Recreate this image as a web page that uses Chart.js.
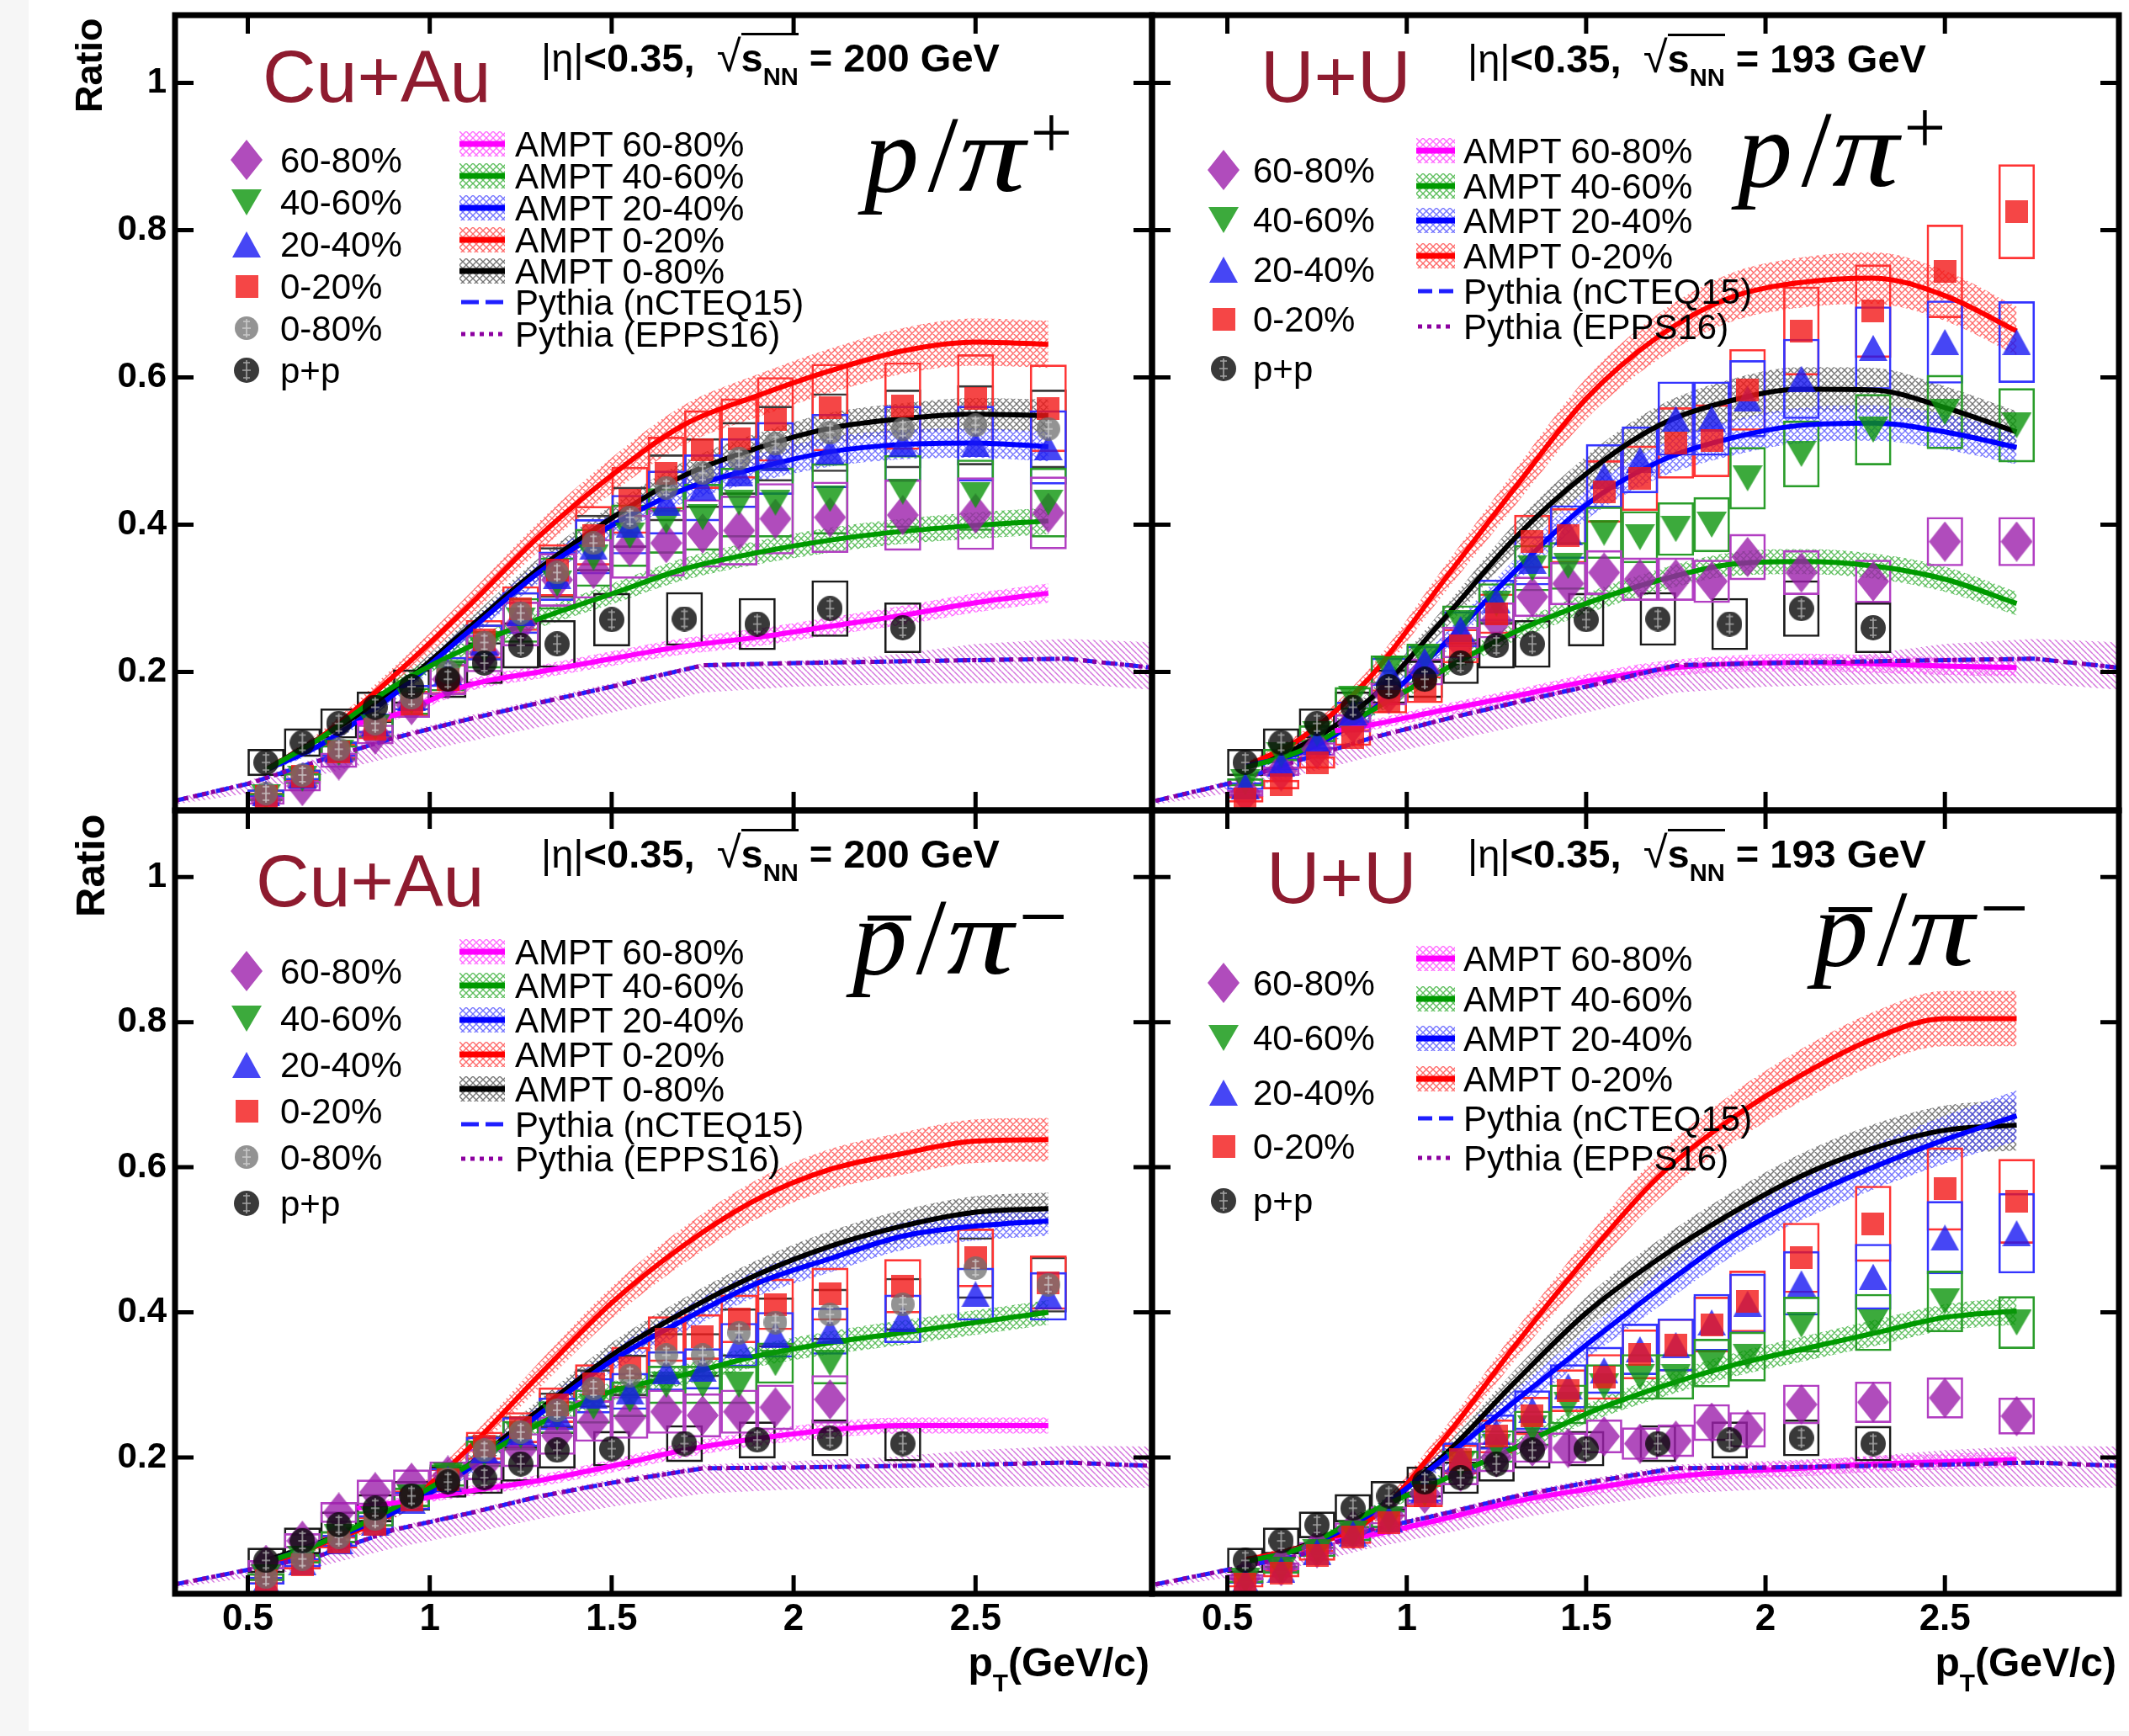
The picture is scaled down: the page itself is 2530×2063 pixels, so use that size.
<!DOCTYPE html>
<html><head><meta charset="utf-8">
<script src="https://cdn.jsdelivr.net/npm/chart.js@4.4.1/dist/chart.umd.min.js"></script>
<style>
html,body{margin:0;padding:0;background:#f6f6f6;overflow:hidden;}
#page{position:relative;width:2530px;height:2063px;overflow:hidden;background:#f6f6f6;}
#sheet{position:absolute;left:34px;top:0;width:2496px;height:2057px;background:#fff;}
#page canvas{position:absolute;}
.t{position:absolute;white-space:nowrap;line-height:1;color:#000;font-family:'Liberation Sans',Arial,Helvetica,sans-serif;}
.serif{font-family:'Liberation Serif','DejaVu Serif','Times New Roman',serif;}
.sup{position:relative;}
.sub{position:relative;font-size:0.62em;}
.pi{display:inline-block;transform:scaleX(1.22);transform-origin:0 0;margin-right:0.16em;}
</style></head>
<body><div id="page"><div id="sheet"></div></div>
<script>
// ---------------- axes / ticks ----------------
const X_TICKS = [0.5, 1, 1.5, 2, 2.5];
const X_TICK_LABELS = ['0.5', '1', '1.5', '2', '2.5'];
const Y_TICKS = [0.2, 0.4, 0.6, 0.8, 1];
const Y_TICK_LABELS = ['0.2', '0.4', '0.6', '0.8', '1'];

// ---------------- pT bins ----------------
const PT_AA = [0.55,0.65,0.75,0.85,0.95,1.05,1.15,1.25,1.35,1.45,1.55,1.65,1.75,1.85,1.95,2.1,2.3,2.5,2.7];
const PT_PP = [0.55,0.65,0.75,0.85,0.95,1.05,1.15,1.25,1.35,1.5,1.7,1.9,2.1,2.3];
const AMPT_PT = [0.55,0.7,0.9,1.1,1.3,1.5,1.7,1.9,2.1,2.3,2.5,2.7];
const AMPT_PT_6080 = [0.8,0.9,1.1,1.3,1.5,1.7,1.9,2.1,2.3,2.5,2.7];
const PYTHIA_PT = [0.3,0.5,0.7,0.9,1.1,1.3,1.5,1.75,2.0,2.25,2.5,2.75,3.0];

// ---------------- Cu+Au  p/pi+ ----------------
const CUAU_P_6080     = [0.025,0.045,0.08,0.115,0.155,0.19,0.225,0.265,0.325,0.34,0.37,0.375,0.388,0.392,0.408,0.41,0.413,0.415,0.416];
const CUAU_P_6080_SYS = [0.005,0.007,0.01,0.013,0.017,0.021,0.025,0.03,0.036,0.04,0.043,0.045,0.046,0.047,0.048,0.048,0.048,0.049,0.049];
const CUAU_P_4060     = [0.03,0.055,0.09,0.125,0.16,0.195,0.23,0.27,0.32,0.355,0.385,0.405,0.41,0.43,0.43,0.435,0.445,0.44,0.43];
const CUAU_P_4060_SYS = [0.005,0.007,0.01,0.014,0.018,0.021,0.025,0.03,0.035,0.039,0.042,0.044,0.045,0.047,0.047,0.048,0.049,0.048,0.047];
const CUAU_P_2040     = [0.035,0.06,0.095,0.13,0.165,0.2,0.24,0.28,0.33,0.37,0.4,0.43,0.45,0.47,0.49,0.5,0.51,0.51,0.505];
const CUAU_P_2040_SYS = [0.005,0.007,0.01,0.013,0.017,0.02,0.024,0.028,0.033,0.037,0.04,0.043,0.045,0.047,0.049,0.05,0.051,0.051,0.05];
const CUAU_P_0020     = [0.031,0.058,0.092,0.122,0.157,0.19,0.244,0.286,0.338,0.385,0.433,0.47,0.502,0.517,0.543,0.559,0.561,0.571,0.558];
const CUAU_P_0020_SYS = [0.005,0.007,0.01,0.013,0.017,0.02,0.026,0.03,0.035,0.04,0.045,0.049,0.053,0.054,0.057,0.059,0.059,0.06,0.059];
const CUAU_P_0080     = [0.035,0.06,0.095,0.13,0.165,0.2,0.24,0.28,0.335,0.375,0.41,0.45,0.47,0.49,0.51,0.525,0.53,0.535,0.53];
const CUAU_P_0080_SYS = [0.005,0.007,0.01,0.013,0.017,0.02,0.024,0.028,0.034,0.038,0.041,0.045,0.047,0.049,0.051,0.053,0.053,0.054,0.053];
const PP_P            = [0.077,0.104,0.13,0.152,0.18,0.19,0.212,0.236,0.238,0.271,0.272,0.265,0.286,0.26];
const PP_P_SYS        = [0.018,0.019,0.02,0.021,0.023,0.025,0.028,0.031,0.032,0.036,0.036,0.035,0.038,0.034];

// ---------------- U+U  p/pi+ ----------------
const UU_P_6080     = [0.035,0.065,0.095,0.13,0.17,0.2,0.24,0.27,0.302,0.32,0.335,0.326,0.326,0.323,0.356,0.335,0.323,0.377,0.377];
const UU_P_6080_SYS = [0.004,0.006,0.009,0.012,0.015,0.018,0.021,0.024,0.027,0.029,0.03,0.029,0.029,0.029,0.031,0.03,0.029,0.033,0.033];
const UU_P_4060     = [0.05,0.087,0.116,0.164,0.203,0.218,0.266,0.293,0.341,0.344,0.389,0.383,0.394,0.4,0.463,0.496,0.529,0.553,0.535];
const UU_P_4060_SYS = [0.005,0.008,0.011,0.015,0.019,0.02,0.024,0.027,0.031,0.032,0.035,0.035,0.036,0.037,0.042,0.045,0.048,0.05,0.05];
const UU_P_2040     = [0.045,0.075,0.105,0.145,0.2,0.215,0.258,0.297,0.351,0.39,0.466,0.488,0.544,0.544,0.571,0.598,0.64,0.648,0.648];
const UU_P_2040_SYS = [0.005,0.008,0.01,0.014,0.019,0.02,0.024,0.028,0.033,0.036,0.043,0.045,0.05,0.05,0.052,0.054,0.056,0.056,0.055];
const UU_P_0020     = [0.027,0.047,0.077,0.111,0.16,0.176,0.235,0.279,0.377,0.385,0.445,0.463,0.511,0.514,0.583,0.663,0.69,0.744,0.825];
const UU_P_0020_SYS = [0.004,0.006,0.008,0.011,0.016,0.018,0.023,0.027,0.036,0.037,0.042,0.044,0.048,0.049,0.055,0.06,0.063,0.063,0.064];

// ---------------- Cu+Au  pbar/pi- ----------------
const CUAU_PBAR_6080     = [0.052,0.085,0.124,0.152,0.165,0.175,0.19,0.21,0.23,0.25,0.255,0.263,0.258,0.263,0.269,0.28,null,null,null];
const CUAU_PBAR_6080_SYS = [0.006,0.01,0.014,0.017,0.018,0.019,0.021,0.023,0.026,0.028,0.029,0.03,0.03,0.03,0.031,0.033,null,null,null];
const CUAU_PBAR_4060     = [0.035,0.06,0.09,0.115,0.145,0.175,0.205,0.23,0.255,0.27,0.28,0.3,0.3,0.3,0.33,0.33,null,null,null];
const CUAU_PBAR_4060_SYS = [0.005,0.006,0.008,0.01,0.013,0.015,0.018,0.02,0.022,0.023,0.024,0.026,0.026,0.026,0.028,0.029,null,null,null];
const CUAU_PBAR_2040     = [0.03,0.055,0.085,0.11,0.14,0.17,0.21,0.235,0.26,0.285,0.291,0.319,0.322,0.355,0.369,0.374,0.391,0.425,0.422];
const CUAU_PBAR_2040_SYS = [0.005,0.006,0.008,0.01,0.012,0.015,0.018,0.02,0.022,0.024,0.025,0.027,0.028,0.03,0.031,0.032,0.033,0.036,0.033];
const CUAU_PBAR_0020     = [0.03,0.052,0.083,0.108,0.141,0.169,0.216,0.241,0.272,0.302,0.324,0.363,0.366,0.391,0.411,0.425,0.436,0.475,0.441];
const CUAU_PBAR_0020_SYS = [0.005,0.006,0.008,0.01,0.013,0.015,0.019,0.021,0.024,0.026,0.028,0.031,0.031,0.033,0.035,0.036,0.037,0.04,0.037];
const CUAU_PBAR_0080     = [0.035,0.06,0.09,0.115,0.145,0.17,0.21,0.235,0.265,0.295,0.313,0.341,0.341,0.372,0.386,0.397,0.411,0.461,0.438];
const CUAU_PBAR_0080_SYS = [0.005,0.006,0.008,0.01,0.013,0.015,0.019,0.021,0.024,0.026,0.028,0.03,0.03,0.033,0.034,0.035,0.036,0.042,0.038];
const PP_PBAR            = [0.058,0.085,0.107,0.13,0.147,0.166,0.172,0.191,0.21,0.212,0.219,0.224,0.227,0.219];
const PP_PBAR_SYS        = [0.017,0.018,0.018,0.019,0.02,0.021,0.022,0.024,0.025,0.024,0.025,0.025,0.025,0.024];

// ---------------- U+U  pbar/pi- ----------------
const UU_PBAR_6080     = [0.035,0.05,0.075,0.1,0.12,0.15,0.18,0.2,0.215,0.213,0.229,0.219,0.223,0.248,0.238,0.273,0.276,0.282,0.257];
const UU_PBAR_6080_SYS = [0.004,0.005,0.008,0.01,0.012,0.015,0.018,0.02,0.022,0.021,0.023,0.022,0.022,0.025,0.024,0.027,0.028,0.028,0.025];
const UU_PBAR_4060     = [0.03,0.045,0.07,0.095,0.115,0.15,0.19,0.215,0.24,0.273,0.298,0.311,0.311,0.33,0.339,0.383,0.386,0.415,0.386];
const UU_PBAR_4060_SYS = [0.003,0.005,0.007,0.01,0.012,0.015,0.019,0.022,0.024,0.027,0.03,0.031,0.031,0.033,0.034,0.038,0.039,0.042,0.036];
const UU_PBAR_2040     = [0.03,0.045,0.07,0.095,0.115,0.155,0.2,0.235,0.265,0.298,0.32,0.349,0.355,0.386,0.412,0.44,0.449,0.503,0.509];
const UU_PBAR_2040_SYS = [0.004,0.005,0.007,0.01,0.012,0.016,0.02,0.024,0.027,0.03,0.032,0.035,0.036,0.039,0.041,0.044,0.045,0.05,0.055];
const UU_PBAR_0020     = [0.025,0.04,0.065,0.09,0.11,0.147,0.197,0.229,0.257,0.292,0.311,0.342,0.355,0.383,0.415,0.475,0.522,0.57,0.553];
const UU_PBAR_0020_SYS = [0.004,0.005,0.007,0.009,0.011,0.015,0.02,0.023,0.026,0.029,0.031,0.034,0.036,0.038,0.042,0.048,0.052,0.057,0.058];

// ---------------- AMPT (centre and band half-width) ----------------
const AMPT_CUAU_P_6080 = [0.13,0.141,0.181,0.2,0.218,0.235,0.247,0.262,0.277,0.294,0.307];
const AMPT_CUAU_P_6080_ERR = [0.006,0.007,0.008,0.009,0.01,0.011,0.012,0.012,0.013,0.013,0.013];
const AMPT_CUAU_P_4060 = [0.067,0.11,0.18,0.232,0.272,0.306,0.34,0.362,0.379,0.391,0.399,0.405];
const AMPT_CUAU_P_4060_ERR = [0.004,0.005,0.008,0.01,0.012,0.014,0.015,0.016,0.017,0.017,0.018,0.018];
const AMPT_CUAU_P_2040 = [0.067,0.101,0.169,0.252,0.335,0.399,0.448,0.477,0.499,0.509,0.511,0.506];
const AMPT_CUAU_P_2040_ERR = [0.004,0.006,0.009,0.011,0.014,0.016,0.018,0.019,0.02,0.02,0.02,0.02];
const AMPT_CUAU_P_0020 = [0.067,0.111,0.194,0.286,0.384,0.467,0.536,0.575,0.609,0.636,0.648,0.645];
const AMPT_CUAU_P_0020_ERR = [0.005,0.008,0.012,0.016,0.02,0.024,0.027,0.029,0.03,0.031,0.032,0.032];
const AMPT_CUAU_P_0080 = [0.067,0.111,0.174,0.257,0.34,0.409,0.467,0.504,0.531,0.544,0.55,0.548];
const AMPT_CUAU_P_0080_ERR = [0.004,0.006,0.009,0.012,0.015,0.017,0.019,0.02,0.021,0.021,0.022,0.022];

const AMPT_UU_P_6080 = [0.12,0.128,0.148,0.167,0.187,0.203,0.211,0.213,0.211,0.208,0.206];
const AMPT_UU_P_6080_ERR = [0.006,0.007,0.008,0.009,0.01,0.011,0.011,0.012,0.012,0.012,0.012];
const AMPT_UU_P_4060 = [0.07,0.092,0.147,0.202,0.254,0.293,0.324,0.346,0.35,0.344,0.326,0.293];
const AMPT_UU_P_4060_ERR = [0.004,0.005,0.008,0.01,0.012,0.014,0.015,0.016,0.017,0.017,0.017,0.016];
const AMPT_UU_P_2040 = [0.072,0.09,0.147,0.236,0.336,0.427,0.485,0.517,0.535,0.538,0.526,0.505];
const AMPT_UU_P_2040_ERR = [0.004,0.006,0.01,0.013,0.017,0.02,0.022,0.024,0.024,0.024,0.024,0.023];
const AMPT_UU_P_0020 = [0.072,0.108,0.194,0.322,0.449,0.571,0.655,0.708,0.729,0.735,0.711,0.663];
const AMPT_UU_P_0020_ERR = [0.005,0.008,0.013,0.018,0.024,0.028,0.031,0.033,0.034,0.035,0.034,0.033];
const AMPT_UU_P_0080 = [0.072,0.098,0.164,0.27,0.381,0.469,0.534,0.568,0.584,0.583,0.559,0.526];
const AMPT_UU_P_0080_ERR = [0.004,0.007,0.011,0.015,0.02,0.024,0.027,0.029,0.03,0.03,0.029,0.028];

const AMPT_CUAU_PBAR_6080 = [0.13,0.137,0.153,0.168,0.188,0.21,0.226,0.238,0.244,0.244,0.244];
const AMPT_CUAU_PBAR_6080_ERR = [0.005,0.006,0.007,0.008,0.009,0.01,0.01,0.011,0.011,0.011,0.011];
const AMPT_CUAU_PBAR_4060 = [0.055,0.082,0.13,0.187,0.246,0.291,0.314,0.34,0.358,0.372,0.386,0.4];
const AMPT_CUAU_PBAR_4060_ERR = [0.004,0.005,0.007,0.009,0.011,0.013,0.014,0.015,0.016,0.017,0.017,0.017];
const AMPT_CUAU_PBAR_2040 = [0.055,0.082,0.124,0.182,0.259,0.333,0.39,0.44,0.474,0.505,0.519,0.526];
const AMPT_CUAU_PBAR_2040_ERR = [0.004,0.005,0.007,0.01,0.013,0.015,0.017,0.018,0.019,0.019,0.02,0.02];
const AMPT_CUAU_PBAR_0020 = [0.052,0.08,0.124,0.209,0.313,0.413,0.493,0.556,0.597,0.619,0.636,0.638];
const AMPT_CUAU_PBAR_0020_ERR = [0.004,0.006,0.009,0.013,0.018,0.022,0.025,0.027,0.028,0.029,0.03,0.03];
const AMPT_CUAU_PBAR_0080 = [0.058,0.083,0.124,0.187,0.265,0.341,0.401,0.452,0.491,0.519,0.538,0.543];
const AMPT_CUAU_PBAR_0080_ERR = [0.004,0.005,0.008,0.011,0.014,0.017,0.019,0.02,0.021,0.022,0.022,0.022];

const AMPT_UU_PBAR_6080 = [0.085,0.093,0.115,0.139,0.156,0.171,0.18,0.185,0.191,0.194,0.197];
const AMPT_UU_PBAR_6080_ERR = [0.005,0.006,0.007,0.008,0.009,0.01,0.01,0.011,0.011,0.011,0.011];
const AMPT_UU_PBAR_4060 = [0.056,0.074,0.125,0.169,0.213,0.26,0.296,0.326,0.349,0.371,0.393,0.402];
const AMPT_UU_PBAR_4060_ERR = [0.004,0.005,0.007,0.009,0.011,0.013,0.015,0.016,0.017,0.018,0.018,0.019];
const AMPT_UU_PBAR_2040 = [0.056,0.074,0.122,0.197,0.277,0.355,0.431,0.502,0.556,0.6,0.638,0.671];
const AMPT_UU_PBAR_2040_ERR = [0.004,0.005,0.008,0.012,0.016,0.02,0.024,0.027,0.029,0.031,0.033,0.035];
const AMPT_UU_PBAR_0020 = [0.059,0.075,0.115,0.223,0.353,0.475,0.586,0.665,0.727,0.777,0.805,0.805];
const AMPT_UU_PBAR_0020_ERR = [0.004,0.006,0.009,0.014,0.02,0.026,0.031,0.034,0.036,0.037,0.038,0.038];
const AMPT_UU_PBAR_0080 = [0.056,0.076,0.122,0.201,0.303,0.399,0.473,0.535,0.588,0.626,0.651,0.658];
const AMPT_UU_PBAR_0080_ERR = [0.004,0.005,0.008,0.012,0.017,0.022,0.026,0.029,0.031,0.033,0.034,0.035];

// ---------------- Pythia (nCTEQ15 and EPPS16 coincide on the figure) ----------------
const PYTHIA_P_NCTEQ15 = [0.025,0.048,0.08,0.11,0.135,0.158,0.18,0.209,0.212,0.214,0.216,0.218,0.205];
const PYTHIA_P_EPPS16  = [0.025,0.048,0.08,0.11,0.135,0.158,0.18,0.209,0.212,0.214,0.216,0.218,0.205];
const PYTHIA_P_LO      = [0.02,0.035,0.06,0.085,0.105,0.125,0.145,0.172,0.18,0.183,0.185,0.185,0.175];
const PYTHIA_P_HI      = [0.028,0.052,0.085,0.115,0.14,0.163,0.185,0.212,0.215,0.222,0.238,0.245,0.24];
const PYTHIA_PBAR_NCTEQ15 = [0.025,0.045,0.065,0.1,0.122,0.146,0.165,0.185,0.186,0.188,0.19,0.193,0.188];
const PYTHIA_PBAR_EPPS16  = [0.025,0.045,0.065,0.1,0.122,0.146,0.165,0.185,0.186,0.188,0.19,0.193,0.188];
const PYTHIA_PBAR_LO      = [0.02,0.034,0.05,0.075,0.095,0.115,0.132,0.15,0.156,0.158,0.16,0.16,0.158];
const PYTHIA_PBAR_HI      = [0.028,0.048,0.068,0.104,0.126,0.15,0.17,0.19,0.195,0.2,0.21,0.216,0.215];

// ---------------- legend labels ----------------
const LEG_DATA_CUAU = ['60-80%','40-60%','20-40%','0-20%','0-80%','p+p'];
const LEG_DATA_UU   = ['60-80%','40-60%','20-40%','0-20%','p+p'];
const LEG_MODEL_CUAU = ['AMPT 60-80%','AMPT 40-60%','AMPT 20-40%','AMPT 0-20%','AMPT 0-80%','Pythia (nCTEQ15)','Pythia (EPPS16)'];
const LEG_MODEL_UU   = ['AMPT 60-80%','AMPT 40-60%','AMPT 20-40%','AMPT 0-20%','Pythia (nCTEQ15)','Pythia (EPPS16)'];

// =====================================================================
const page = document.getElementById('page');
const X_MAX = 2.985, Y_MIN = 0.012, Y_MAX = 1.092;
const FONT = "'Liberation Sans', Arial, Helvetica, sans-serif";
Chart.defaults.font.family = FONT;

function makeMarker(shape, fill, w, h, cross) {
  const c = document.createElement('canvas'); c.width = w; c.height = h;
  const g = c.getContext('2d'); g.fillStyle = fill; g.beginPath();
  if (shape === 'diamond') { g.moveTo(w/2,0); g.lineTo(w,h/2); g.lineTo(w/2,h); g.lineTo(0,h/2); }
  else if (shape === 'tri') { g.moveTo(w/2,0); g.lineTo(w,h); g.lineTo(0,h); }
  else if (shape === 'itri') { g.moveTo(0,0); g.lineTo(w,0); g.lineTo(w/2,h); }
  else if (shape === 'square') { g.rect(0,0,w,h); }
  else { g.arc(w/2,h/2,w/2,0,Math.PI*2); }
  g.closePath(); g.fill();
  if (cross) {
    g.strokeStyle = cross; g.lineWidth = 1.6; g.beginPath();
    g.moveTo(w/2,3); g.lineTo(w/2,h-3); g.moveTo(w/2-5,h/2); g.lineTo(w/2+5,h/2);
    g.moveTo(w/2-4,6); g.lineTo(w/2+4,6); g.moveTo(w/2-4,h-6); g.lineTo(w/2+4,h-6);
    g.stroke();
  }
  return c;
}
const STY = {
  purple:{mk:makeMarker('diamond','rgba(156,31,171,0.8)',38,48), box:'#b23ec2', order:6},
  green: {mk:makeMarker('itri','rgba(11,149,11,0.8)',36,31), box:'#2a9d2a', order:5},
  blue:  {mk:makeMarker('tri','rgba(24,24,242,0.8)',34,31), box:'#3434ff', order:4},
  red:   {mk:makeMarker('square','rgba(242,24,24,0.8)',27,27), box:'#ff3434', order:3},
  gray:  {mk:makeMarker('circle','rgba(111,111,111,0.75)',28,28,'rgba(215,215,215,0.8)'), box:'#3a3a3a', order:2},
  pp:    {mk:makeMarker('circle','rgba(8,8,8,0.8)',30,30,'rgba(175,175,175,0.9)'), box:'#1a1a1a', order:1},
};
const AMPT_STY = {
  magenta:{line:'#ff00ff', hatch:'rgba(255,70,255,0.8)'},
  green:  {line:'#009a00', hatch:'rgba(40,170,40,0.75)'},
  blue:   {line:'#0000ff', hatch:'rgba(70,70,255,0.75)'},
  red:    {line:'#ff0000', hatch:'rgba(255,70,70,0.8)'},
  black:  {line:'#000000', hatch:'rgba(60,60,60,0.7)'},
};
function hatch(color, kind, s) {
  const c = document.createElement('canvas'); c.width = s; c.height = s;
  const g = c.getContext('2d'); g.strokeStyle = color; g.lineWidth = 1.4; g.beginPath();
  for (let k = -1; k <= 1; k++) {
    g.moveTo(k*s, 0); g.lineTo(k*s + s, s);
    if (kind === 'x') { g.moveTo(k*s + s, 0); g.lineTo(k*s, s); }
  }
  g.stroke();
  return g.createPattern(c, 'repeat');
}
const PY_HATCH = hatch('rgba(205,90,215,0.85)', '\\', 7);
Object.values(AMPT_STY).forEach(s => { s.pattern = hatch(s.hatch, 'x', 8); });

function pts(xs, ys) { const o = []; xs.forEach((x,i) => { if (ys[i] != null) o.push({x, y:ys[i]}); }); return o; }
function boxes(xs, ys, sy) { const o = []; xs.forEach((x,i) => { if (ys[i] != null) o.push({x, y:[ys[i]-sy[i], ys[i]+sy[i]]}); }); return o; }

const frameTicks = {
  id:'frameTicks',
  afterDraw(chart) {
    const {ctx, chartArea:a, scales:{x, y}} = chart;
    const TL = 22;
    ctx.save(); ctx.strokeStyle = '#000'; ctx.lineWidth = 5; ctx.beginPath();
    X_TICKS.forEach(v => { const p = x.getPixelForValue(v);
      ctx.moveTo(p, a.bottom); ctx.lineTo(p, a.bottom - TL); ctx.moveTo(p, a.top); ctx.lineTo(p, a.top + TL); });
    Y_TICKS.forEach(v => { const p = y.getPixelForValue(v);
      ctx.moveTo(a.left, p); ctx.lineTo(a.left + TL, p); ctx.moveTo(a.right, p); ctx.lineTo(a.right - TL, p); });
    ctx.stroke();
    ctx.lineWidth = 7; ctx.strokeRect(a.left, a.top, a.right - a.left, a.bottom - a.top);
    ctx.restore();
  }
};

const PANELS = [
  { geom:{cx:0,cy:0,cw:1380,ch:1000,L:208,T:18,R:1369,B:963}, xmin:0.3, showX:false, showY:true,
    series:[['purple',CUAU_P_6080,CUAU_P_6080_SYS],['green',CUAU_P_4060,CUAU_P_4060_SYS],['blue',CUAU_P_2040,CUAU_P_2040_SYS],['red',CUAU_P_0020,CUAU_P_0020_SYS],['gray',CUAU_P_0080,CUAU_P_0080_SYS]],
    pp:[PP_P, PP_P_SYS],
    ampt:[['magenta',AMPT_PT_6080,AMPT_CUAU_P_6080,AMPT_CUAU_P_6080_ERR],['green',AMPT_PT,AMPT_CUAU_P_4060,AMPT_CUAU_P_4060_ERR],['blue',AMPT_PT,AMPT_CUAU_P_2040,AMPT_CUAU_P_2040_ERR],['red',AMPT_PT,AMPT_CUAU_P_0020,AMPT_CUAU_P_0020_ERR],['black',AMPT_PT,AMPT_CUAU_P_0080,AMPT_CUAU_P_0080_ERR]],
    py:[PYTHIA_P_NCTEQ15, PYTHIA_P_EPPS16, PYTHIA_P_LO, PYTHIA_P_HI] },
  { geom:{cx:1360,cy:0,cw:1170,ch:1000,L:1369,T:18,R:2518,B:963}, xmin:0.29, showX:false, showY:false,
    series:[['purple',UU_P_6080,UU_P_6080_SYS],['green',UU_P_4060,UU_P_4060_SYS],['blue',UU_P_2040,UU_P_2040_SYS],['red',UU_P_0020,UU_P_0020_SYS]],
    pp:[PP_P, PP_P_SYS],
    ampt:[['magenta',AMPT_PT_6080,AMPT_UU_P_6080,AMPT_UU_P_6080_ERR],['green',AMPT_PT,AMPT_UU_P_4060,AMPT_UU_P_4060_ERR],['blue',AMPT_PT,AMPT_UU_P_2040,AMPT_UU_P_2040_ERR],['red',AMPT_PT,AMPT_UU_P_0020,AMPT_UU_P_0020_ERR],['black',AMPT_PT,AMPT_UU_P_0080,AMPT_UU_P_0080_ERR]],
    py:[PYTHIA_P_NCTEQ15, PYTHIA_P_EPPS16, PYTHIA_P_LO, PYTHIA_P_HI] },
  { geom:{cx:0,cy:940,cw:1380,ch:1123,L:208,T:963,R:1369,B:1894}, xmin:0.3, showX:true, showY:true,
    series:[['purple',CUAU_PBAR_6080,CUAU_PBAR_6080_SYS],['green',CUAU_PBAR_4060,CUAU_PBAR_4060_SYS],['blue',CUAU_PBAR_2040,CUAU_PBAR_2040_SYS],['red',CUAU_PBAR_0020,CUAU_PBAR_0020_SYS],['gray',CUAU_PBAR_0080,CUAU_PBAR_0080_SYS]],
    pp:[PP_PBAR, PP_PBAR_SYS],
    ampt:[['magenta',AMPT_PT_6080,AMPT_CUAU_PBAR_6080,AMPT_CUAU_PBAR_6080_ERR],['green',AMPT_PT,AMPT_CUAU_PBAR_4060,AMPT_CUAU_PBAR_4060_ERR],['blue',AMPT_PT,AMPT_CUAU_PBAR_2040,AMPT_CUAU_PBAR_2040_ERR],['red',AMPT_PT,AMPT_CUAU_PBAR_0020,AMPT_CUAU_PBAR_0020_ERR],['black',AMPT_PT,AMPT_CUAU_PBAR_0080,AMPT_CUAU_PBAR_0080_ERR]],
    py:[PYTHIA_PBAR_NCTEQ15, PYTHIA_PBAR_EPPS16, PYTHIA_PBAR_LO, PYTHIA_PBAR_HI] },
  { geom:{cx:1360,cy:940,cw:1170,ch:1123,L:1369,T:963,R:2518,B:1894}, xmin:0.29, showX:true, showY:false,
    series:[['purple',UU_PBAR_6080,UU_PBAR_6080_SYS],['green',UU_PBAR_4060,UU_PBAR_4060_SYS],['blue',UU_PBAR_2040,UU_PBAR_2040_SYS],['red',UU_PBAR_0020,UU_PBAR_0020_SYS]],
    pp:[PP_PBAR, PP_PBAR_SYS],
    ampt:[['magenta',AMPT_PT_6080,AMPT_UU_PBAR_6080,AMPT_UU_PBAR_6080_ERR],['green',AMPT_PT,AMPT_UU_PBAR_4060,AMPT_UU_PBAR_4060_ERR],['blue',AMPT_PT,AMPT_UU_PBAR_2040,AMPT_UU_PBAR_2040_ERR],['red',AMPT_PT,AMPT_UU_PBAR_0020,AMPT_UU_PBAR_0020_ERR],['black',AMPT_PT,AMPT_UU_PBAR_0080,AMPT_UU_PBAR_0080_ERR]],
    py:[PYTHIA_PBAR_NCTEQ15, PYTHIA_PBAR_EPPS16, PYTHIA_PBAR_LO, PYTHIA_PBAR_HI] },
];

function zeroPad(s) { s.paddingLeft = 0; s.paddingRight = 0; s.paddingTop = 0; s.paddingBottom = 0; }

PANELS.forEach(sp => {
  const g = sp.geom;
  const cv = document.createElement('canvas');
  cv.width = g.cw; cv.height = g.ch;
  cv.style.left = g.cx + 'px'; cv.style.top = g.cy + 'px';
  cv.style.width = g.cw + 'px'; cv.style.height = g.ch + 'px';
  page.appendChild(cv);
  const bw = 0.1 * (g.R - g.L) / (X_MAX - sp.xmin);
  const ds = [];
  const none = 'rgba(0,0,0,0)';
  ds.push({type:'line', data:pts(PYTHIA_PT, sp.py[2]), borderColor:none, borderWidth:0, pointRadius:0, fill:false, tension:0, order:50});
  ds.push({type:'line', data:pts(PYTHIA_PT, sp.py[3]), borderColor:none, borderWidth:0, pointRadius:0, fill:'-1', backgroundColor:PY_HATCH, tension:0, order:50});
  sp.ampt.forEach(([c, xs, ys, es]) => {
    ds.push({type:'line', data:pts(xs, ys.map((v,i)=>v-es[i])), borderColor:none, borderWidth:0, pointRadius:0, fill:false, cubicInterpolationMode:'monotone', order:40});
    ds.push({type:'line', data:pts(xs, ys.map((v,i)=>v+es[i])), borderColor:none, borderWidth:0, pointRadius:0, fill:'-1', backgroundColor:AMPT_STY[c].pattern, cubicInterpolationMode:'monotone', order:40});
  });
  const allSeries = sp.series.concat([['pp', sp.pp[0], sp.pp[1]]]);
  allSeries.forEach(([k, ys, sy]) => {
    const xs = k === 'pp' ? PT_PP : PT_AA;
    ds.push({type:'bar', data:boxes(xs, ys, sy), backgroundColor:none, borderColor:STY[k].box, borderWidth:2,
      borderSkipped:false, barThickness:bw, categoryPercentage:1, barPercentage:1, grouped:false, order:30});
  });
  sp.ampt.forEach(([c, xs, ys]) => {
    ds.push({type:'line', data:pts(xs, ys), borderColor:AMPT_STY[c].line, borderWidth:6, pointRadius:0, fill:false, cubicInterpolationMode:'monotone', order:20});
  });
  ds.push({type:'line', data:pts(PYTHIA_PT, sp.py[0]), borderColor:'#1f1fff', borderWidth:5, borderDash:[16,9], pointRadius:0, fill:false, tension:0, order:16});
  ds.push({type:'line', data:pts(PYTHIA_PT, sp.py[1]), borderColor:'#8c00a0', borderWidth:5, borderDash:[5,6], pointRadius:0, fill:false, tension:0, order:15});
  allSeries.forEach(([k, ys]) => {
    const xs = k === 'pp' ? PT_PP : PT_AA;
    ds.push({type:'scatter', data:pts(xs, ys), pointStyle:STY[k].mk, pointRadius:12, showLine:false, order:STY[k].order});
  });

  new Chart(cv, {
    type:'line',
    data:{datasets:ds},
    options:{
      responsive:false, animation:false, events:[], devicePixelRatio:1,
      layout:{padding:{left:0, top:g.T - g.cy, right:g.cx + g.cw - g.R, bottom:0}, autoPadding:false},
      plugins:{legend:{display:false}, tooltip:{enabled:false}},
      scales:{
        x:{type:'linear', position:'bottom', min:sp.xmin, max:X_MAX, offset:false, beginAtZero:false,
           grid:{display:false, drawTicks:false, offset:false}, border:{display:false},
           afterBuildTicks:s => { s.ticks = X_TICKS.map(v => ({value:v})); },
           ticks:{display:sp.showX, padding:4, color:'#000', autoSkip:false, maxRotation:0,
                  font:{family:FONT, size:44, weight:'bold'}, callback:(v,i) => X_TICK_LABELS[i]},
           afterFit:s => { s.height = g.cy + g.ch - g.B; zeroPad(s); }},
        y:{type:'linear', position:'left', min:Y_MIN, max:Y_MAX, offset:false, beginAtZero:false,
           grid:{display:false, drawTicks:false}, border:{display:false},
           afterBuildTicks:s => { s.ticks = Y_TICKS.map(v => ({value:v})); },
           ticks:{display:sp.showY, padding:10, color:'#000', autoSkip:false,
                  font:{family:FONT, size:42, weight:'bold'}, callback:(v,i) => Y_TICK_LABELS[i]},
           afterFit:s => { s.width = g.L - g.cx; zeroPad(s); }}
      }
    },
    plugins:[frameTicks]
  });
});

// ---------------- text overlays ----------------
function addText(html, x, base, fs, opts = {}) {
  const d = document.createElement('div');
  d.className = 't' + (opts.serif ? ' serif' : '');
  d.innerHTML = html;
  d.style.fontSize = fs + 'px';
  if (opts.weight) d.style.fontWeight = opts.weight;
  if (opts.color) d.style.color = opts.color;
  const k = opts.serif ? 0.8375 : 0.8465;
  d.style.top = (base - k * fs) + 'px';
  if (opts.right) d.style.right = (2530 - x) + 'px'; else d.style.left = x + 'px';
  page.appendChild(d);
  return d;
}
const SYS_COLOR = '#8e1b2f';
const eta = e => `<span style="font-weight:400">|&eta;|</span>&lt;0.35,&nbsp;&nbsp;<span style="font-weight:400;font-size:1.12em">&radic;</span><span style="border-top:3px solid #000">s<span class="sub" style="top:0.55em">NN</span></span> = ${e}`;
const pPlus = `<i>p</i><span style="margin-left:0.08em">/</span><i class="pi">&pi;</i><span class="sup" style="font-size:0.68em;top:-0.45em">+</span>`;
const pMinus = `<span style="position:relative"><i>p</i><span style="position:absolute;left:0.14em;top:0.36em;width:0.4em;height:0.045em;background:#000"></span></span><span style="margin-left:0.08em">/</span><i class="pi">&pi;</i><span class="sup" style="font-size:0.8em;top:-0.32em">&minus;</span>`;

const TEXTS = [
  {sys:'Cu+Au', sx:312, sb:121, ex:643, eb:81, e:'200 GeV', rx:1027, rb:227, r:pPlus},
  {sys:'U+U',   sx:1498, sb:121, ex:1744, eb:82, e:'193 GeV', rx:2065, rb:221, r:pPlus},
  {sys:'Cu+Au', sx:304, sb:1077, ex:643, eb:1027, e:'200 GeV', rx:1013, rb:1157, r:pMinus},
  {sys:'U+U',   sx:1505, sb:1073, ex:1744, eb:1027, e:'193 GeV', rx:2155, rb:1147, r:pMinus},
];
TEXTS.forEach(t => {
  addText(t.sys, t.sx, t.sb, 88, {color:SYS_COLOR});
  addText(eta(t.e), t.ex, t.eb, 47, {weight:'bold'});
  addText(t.r, t.rx, t.rb, 130, {serif:true});
});
[[134, 45], [1090, 49]].forEach(([top, fs]) => {
  const d = document.createElement('div'); d.className = 't'; d.textContent = 'Ratio';
  d.style.fontSize = fs + 'px'; d.style.fontWeight = 'bold';
  d.style.left = '83px'; d.style.top = top + 'px';
  d.style.transformOrigin = '0 0'; d.style.transform = 'rotate(-90deg)';
  page.appendChild(d);
});
addText('p<span class="sub" style="top:0.6em">T</span>(GeV/c)', 1366, 1993, 48, {weight:'bold', right:true});
addText('p<span class="sub" style="top:0.6em">T</span>(GeV/c)', 2515, 1993, 48, {weight:'bold', right:true});

// ---------------- legends ----------------
let swId = 0;
function swatch(kind, w, line, hatchCol) {
  const id = 'hp' + (swId++);
  if (kind === 'band') return `<svg width="${w}" height="30" xmlns="http://www.w3.org/2000/svg"><defs><pattern id="${id}" width="8" height="8" patternUnits="userSpaceOnUse"><path d="M0 0L8 8M8 0L0 8" stroke="${hatchCol}" stroke-width="1.4"/></pattern></defs><rect width="${w}" height="30" fill="url(#${id})"/><line x1="0" y1="15" x2="${w}" y2="15" stroke="${line}" stroke-width="7"/></svg>`;
  if (kind === 'dash') return `<svg width="${w}" height="30" xmlns="http://www.w3.org/2000/svg"><line x1="2" y1="15" x2="${w}" y2="15" stroke="#1f1fff" stroke-width="5" stroke-dasharray="${Math.round(w*0.38)} 8"/></svg>`;
  return `<svg width="${w}" height="30" xmlns="http://www.w3.org/2000/svg"><line x1="2" y1="15" x2="${w}" y2="15" stroke="#8c00a0" stroke-width="5" stroke-dasharray="5 6"/></svg>`;
}
const LEG_FS = 42;
function legend(labels, keys, mx, lx, rows) {
  labels.forEach((lab, i) => {
    const mk = STY[keys[i]].mk;
    const img = document.createElement('img'); img.src = mk.toDataURL();
    img.style.position = 'absolute'; img.style.left = (mx - mk.width/2) + 'px'; img.style.top = (rows[i] - mk.height/2) + 'px';
    page.appendChild(img);
    const d = addText(lab, lx, 0, LEG_FS); d.style.top = (rows[i] - 0.488*LEG_FS) + 'px';
  });
}
function modelLegend(labels, kinds, sx, sw, lx, rows) {
  labels.forEach((lab, i) => {
    const k = kinds[i];
    const s = document.createElement('div'); s.style.position = 'absolute';
    s.style.left = sx + 'px'; s.style.top = (rows[i] - 15) + 'px'; s.style.lineHeight = '0';
    s.innerHTML = k === 'dash' || k === 'dot' ? swatch(k, sw) : swatch('band', sw, AMPT_STY[k].line, AMPT_STY[k].hatch);
    page.appendChild(s);
    const d = addText(lab, lx, 0, LEG_FS); d.style.top = (rows[i] - 0.488*LEG_FS) + 'px';
  });
}
const KEYS_CUAU = ['purple','green','blue','red','gray','pp'];
const KEYS_UU = ['purple','green','blue','red','pp'];
const MKINDS_CUAU = ['magenta','green','blue','red','black','dash','dot'];
const MKINDS_UU = ['magenta','green','blue','red','dash','dot'];
legend(LEG_DATA_CUAU, KEYS_CUAU, 293, 333, [190,240,290,340,390,440]);
modelLegend(LEG_MODEL_CUAU, MKINDS_CUAU, 546, 54, 612, [171,209,247,285,322,359,397]);
legend(LEG_DATA_UU, KEYS_UU, 1454, 1489, [202,261,320,379,438]);
modelLegend(LEG_MODEL_UU, MKINDS_UU, 1683, 46, 1739, [179,221,262,304,346,388]);
legend(LEG_DATA_CUAU, KEYS_CUAU, 293, 333, [1154,1210,1265,1320,1375,1430]);
modelLegend(LEG_MODEL_CUAU, MKINDS_CUAU, 546, 54, 612, [1131,1171,1212,1253,1294,1336,1377]);
legend(LEG_DATA_UU, KEYS_UU, 1454, 1489, [1168,1233,1298,1362,1427]);
modelLegend(LEG_MODEL_UU, MKINDS_UU, 1683, 46, 1739, [1139,1187,1234,1282,1329,1376]);
</script>
</body></html>
